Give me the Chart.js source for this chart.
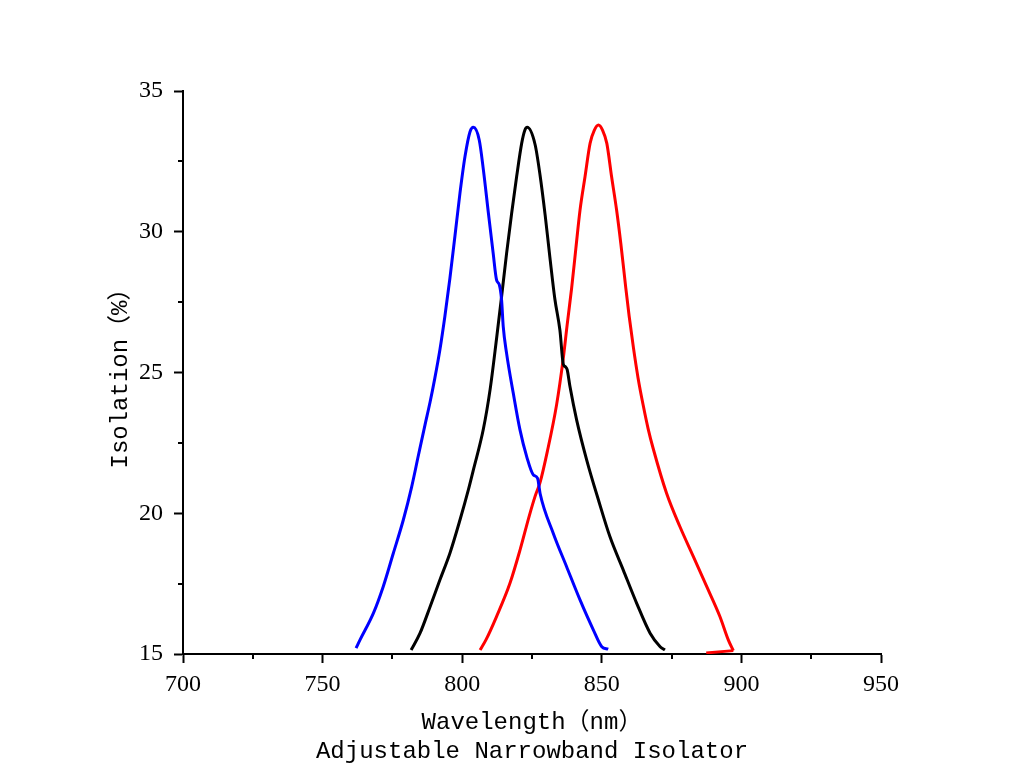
<!DOCTYPE html>
<html>
<head>
<meta charset="utf-8">
<script src="https://cdn.jsdelivr.net/npm/chart.js@4/dist/chart.umd.min.js"></script>
<style>
html,body{margin:0;padding:0;background:#fff;}
#wrap{width:1024px;height:784px;position:relative;}
</style>
</head>
<body>
<div id="wrap"><canvas id="c" width="1024" height="784"></canvas></div>
<script>
// ---- data ----
const xTitleLines = ["Wavelength（nm）", "Adjustable Narrowband Isolator"];
const yTitle = "Isolation（%）";
const xMajorTicks = [700, 750, 800, 850, 900, 950];
const xMinorTicks = [725, 775, 825, 875, 925];
const yMajorTicks = [15, 20, 25, 30, 35];
const yMinorTicks = [17.5, 22.5, 27.5, 32.5];

const blueX = [762.0, 763.4, 768.2, 771.7, 775.3, 778.9, 781.9, 784.3, 786.7, 788.5, 790.2, 792.0, 793.8, 795.6, 797.4, 799.2, 801.0, 802.8, 804.0, 806.1, 807.6, 809.4, 811.1, 812.3, 813.3, 814.1, 814.7, 815.9, 818.3, 820.7, 823.1, 825.5, 827.0, 827.9, 832.6, 837.4, 842.2, 847.0, 850.0, 852.3];
const blueY = [15.21, 15.50, 16.45, 17.39, 18.57, 19.76, 20.94, 22.05, 23.15, 23.95, 24.8, 25.8, 27.0, 28.35, 29.85, 31.37, 32.67, 33.55, 33.71, 33.26, 32.19, 30.65, 29.23, 28.29, 28.11, 27.58, 26.63, 25.68, 24.26, 22.96, 22.01, 21.36, 21.24, 20.7, 19.29, 18.10, 16.92, 15.85, 15.26, 15.17];

const blackX = [781.7, 784.9, 788.5, 792.0, 795.6, 799.2, 802.2, 804.0, 807.6, 810.0, 812.3, 814.1, 815.9, 817.7, 819.5, 821.3, 822.4, 823.3, 826.1, 827.9, 829.7, 831.4, 833.2, 835.0, 836.2, 837.0, 837.6, 838.6, 841.0, 844.6, 848.8, 852.9, 857.7, 862.5, 867.3, 870.9, 872.6];
const blackY = [15.14, 15.74, 16.68, 17.63, 18.58, 19.76, 20.83, 21.54, 23.0, 24.4, 26.2, 27.69, 29.23, 30.65, 31.96, 33.14, 33.6, 33.71, 33.1, 32.0, 30.6, 29.1, 27.6, 26.5, 25.3, 25.2, 25.1, 24.50, 23.31, 21.89, 20.47, 19.17, 17.98, 16.80, 15.74, 15.26, 15.14];

const redX = [806.4, 808.5, 812.3, 817.1, 820.7, 824.0, 826.1, 827.9, 830.5, 833.8, 836.2, 837.6, 839.2, 840.7, 842.2, 844.0, 845.8, 847.3, 848.8, 850.3, 851.8, 853.5, 855.3, 856.8, 858.6, 859.8, 861.3, 863.0, 864.9, 866.6, 868.4, 873.2, 878.0, 882.8, 887.6, 892.3, 895.3, 897.1];
const redY = [15.14, 15.5, 16.33, 17.51, 18.69, 19.9, 20.6, 21.1, 22.2, 23.85, 25.5, 26.7, 28.0, 29.4, 30.77, 31.96, 33.14, 33.6, 33.79, 33.6, 33.14, 31.96, 30.77, 29.59, 28.0, 27.0, 25.9, 24.8, 23.8, 23.0, 22.3, 20.71, 19.52, 18.46, 17.39, 16.33, 15.5, 15.12];
const redTailX = [897.1, 887.4];
const redTailY = [15.12, 15.04];

function pts(xs, ys){ return xs.map((x,i)=>({x:x, y:ys[i]})); }

const TICK_FONT = {family: "'Liberation Serif', 'DejaVu Serif', serif", size: 24};
const TITLE_FONT = {family: "'Liberation Mono', 'Noto Sans CJK SC', monospace", size: 24};

const minorTicks = {
  id: 'minorTicks',
  afterDraw(chart){
    const ctx = chart.ctx, xs = chart.scales.x, ys = chart.scales.y;
    ctx.save();
    ctx.strokeStyle = '#000';
    ctx.lineWidth = 2;
    ctx.beginPath();
    xMinorTicks.forEach(v=>{
      const px = Math.round(xs.getPixelForValue(v));
      ctx.moveTo(px, ys.bottom);
      ctx.lineTo(px, ys.bottom + 5);
    });
    yMinorTicks.forEach(v=>{
      const py = Math.round(ys.getPixelForValue(v));
      ctx.moveTo(xs.left, py);
      ctx.lineTo(xs.left - 5, py);
    });
    ctx.stroke();
    ctx.restore();
  }
};

const mk = (label, data, color, mono) => Object.assign({
  label, data, borderColor: color, backgroundColor: color,
  borderWidth: 3, pointRadius: 0, showLine: true, fill: false
}, mono ? {cubicInterpolationMode: 'monotone'} : {tension: 0});

new Chart(document.getElementById('c'), {
  type: 'scatter',
  data: {
    datasets: [
      mk('Blue', pts(blueX, blueY), '#0000ff', true),
      mk('Black', pts(blackX, blackY), '#000000', true),
      mk('Red', pts(redX, redY), '#ff0000', true),
      mk('RedTail', pts(redTailX, redTailY), '#ff0000', false)
    ]
  },
  options: {
    responsive: false,
    animation: false,
    devicePixelRatio: 1,
    layout: {padding: {top: 91, right: 143, left: 100, bottom: 18}},
    plugins: {legend: {display: false}, tooltip: {enabled: false}},
    scales: {
      x: {
        type: 'linear', min: 700, max: 950,
        afterBuildTicks(s){ s.ticks = xMajorTicks.map(v=>({value:v})); },
        afterFit(s){ s.height = 784 - 654 - 18; },
        grid: {display: true, drawOnChartArea: false, drawTicks: true, tickLength: 9, tickWidth: 2, tickColor: '#000'},
        border: {display: true, color: '#000', width: 2},
        ticks: {color: '#000', font: TICK_FONT, padding: 7, maxRotation: 0},
        title: {display: true, text: xTitleLines, color: '#000', font: TITLE_FONT, padding: {top: 2, bottom: 0}}
      },
      y: {
        type: 'linear', min: 15, max: 35,
        afterBuildTicks(s){ s.ticks = yMajorTicks.map(v=>({value:v})); },
        afterFit(s){ s.width = 183 - 100; },
        grid: {display: true, drawOnChartArea: false, drawTicks: true, tickLength: 9, tickWidth: 2, tickColor: '#000'},
        border: {display: true, color: '#000', width: 2},
        ticks: {color: '#000', font: TICK_FONT, padding: 11},
        title: {display: true, text: yTitle, color: '#000', font: TITLE_FONT, padding: {top: 6, bottom: 0}}
      }
    }
  },
  plugins: [minorTicks]
});
</script>
</body>
</html>
